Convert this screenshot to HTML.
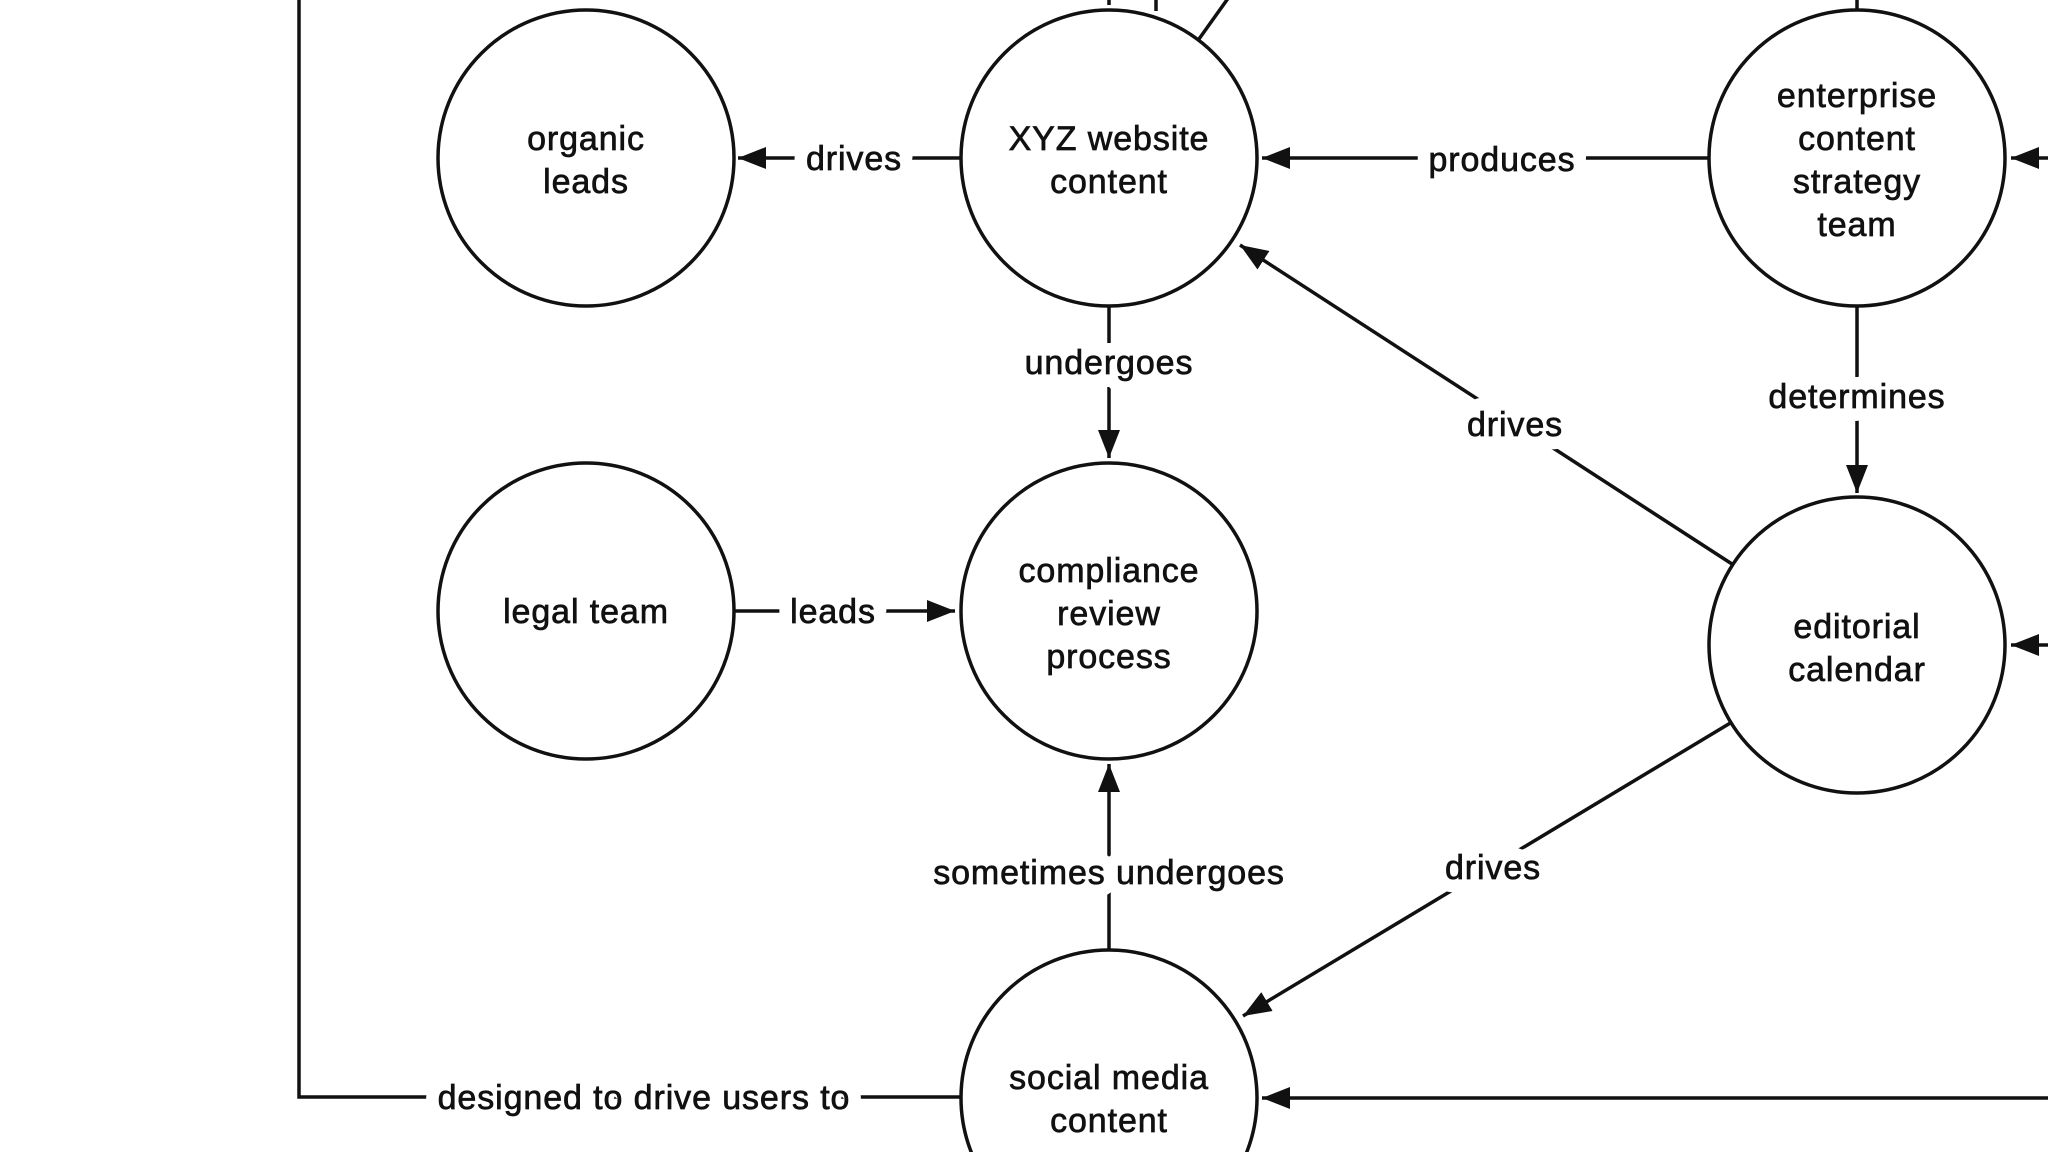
<!DOCTYPE html>
<html><head><meta charset="utf-8"><style>
html,body{margin:0;padding:0;background:#fff;width:2048px;height:1152px;overflow:hidden;}
svg{display:block}
text{font-family:"Liberation Sans",Arial,sans-serif;font-size:34px;letter-spacing:0.9px;fill:#111;text-anchor:middle;stroke:#111;stroke-width:0.7px;}
.l{paint-order:stroke;stroke:#fff;stroke-width:26px;stroke-linejoin:round;}
.l2{fill:#111;stroke:#111;stroke-width:0.7px;}
</style></head><body>
<svg width="2048" height="1152" viewBox="0 0 2048 1152" xmlns="http://www.w3.org/2000/svg">
<defs>
<marker id="b" markerWidth="28" markerHeight="22" refX="28" refY="11" orient="auto" markerUnits="userSpaceOnUse">
<path d="M0,0 L28,11 L0,22 Z" fill="#111"/>
</marker>
</defs>
<g stroke="#111" stroke-width="3.5" fill="none">
<polyline points="299,0 299,1097 961,1097"/>
<line x1="1156" y1="0" x2="1156" y2="11"/>
<line x1="1199" y1="39" x2="1234" y2="-10"/>
<line x1="1109" y1="0" x2="1109" y2="5"/>
<line x1="1857" y1="0" x2="1857" y2="10"/>
<line x1="961" y1="158" x2="738" y2="158" marker-end="url(#b)"/>
<line x1="1709" y1="158" x2="1262" y2="158" marker-end="url(#b)"/>
<line x1="1109" y1="306" x2="1109" y2="458" marker-end="url(#b)"/>
<line x1="734" y1="611" x2="955" y2="611" marker-end="url(#b)"/>
<line x1="1109" y1="950" x2="1109" y2="764" marker-end="url(#b)"/>
<line x1="1857" y1="306" x2="1857" y2="493" marker-end="url(#b)"/>
<line x1="1732" y1="564" x2="1240" y2="245" marker-end="url(#b)"/>
<line x1="1732" y1="722" x2="1243" y2="1016" marker-end="url(#b)"/>
<line x1="2060" y1="1098" x2="1262" y2="1098" marker-end="url(#b)"/>
<line x1="2060" y1="158" x2="2011" y2="158" marker-end="url(#b)"/>
<line x1="2060" y1="645" x2="2011" y2="645" marker-end="url(#b)"/>
</g>
<g stroke="#111" stroke-width="3.5" fill="#fff">
<circle cx="586" cy="158" r="148"/>
<circle cx="1109" cy="158" r="148"/>
<circle cx="1857" cy="158" r="148"/>
<circle cx="586" cy="611" r="148"/>
<circle cx="1109" cy="611" r="148"/>
<circle cx="1857" cy="645" r="148"/>
<circle cx="1109" cy="1098" r="148"/>
</g>
<g>
<text class="l" x="854" y="170">drives</text>
<text class="l" x="1502" y="171">produces</text>
<text class="l" x="1109" y="374">undergoes</text>
<text class="l" x="833" y="623">leads</text>
<text class="l" x="1109" y="884">sometimes undergoes</text>
<text class="l" x="1857" y="408">determines</text>
<text class="l" x="1515" y="436">drives</text>
<text class="l" x="1493" y="879">drives</text>
<text class="l" x="644" y="1109">designed to drive users to</text>
<text class="l2" x="854" y="170">drives</text>
<text class="l2" x="1502" y="171">produces</text>
<text class="l2" x="1109" y="374">undergoes</text>
<text class="l2" x="833" y="623">leads</text>
<text class="l2" x="1109" y="884">sometimes undergoes</text>
<text class="l2" x="1857" y="408">determines</text>
<text class="l2" x="1515" y="436">drives</text>
<text class="l2" x="1493" y="879">drives</text>
<text class="l2" x="644" y="1109">designed to drive users to</text>
</g>
<text x="586" y="150">organic</text><text x="586" y="193">leads</text>
<text x="1109" y="150">XYZ website</text><text x="1109" y="193">content</text>
<text x="1857" y="107">enterprise</text><text x="1857" y="150">content</text><text x="1857" y="193">strategy</text><text x="1857" y="236">team</text>
<text x="586" y="623">legal team</text>
<text x="1109" y="582">compliance</text><text x="1109" y="625">review</text><text x="1109" y="668">process</text>
<text x="1857" y="638">editorial</text><text x="1857" y="681">calendar</text>
<text x="1109" y="1089">social media</text><text x="1109" y="1132">content</text>
</svg>
</body></html>
